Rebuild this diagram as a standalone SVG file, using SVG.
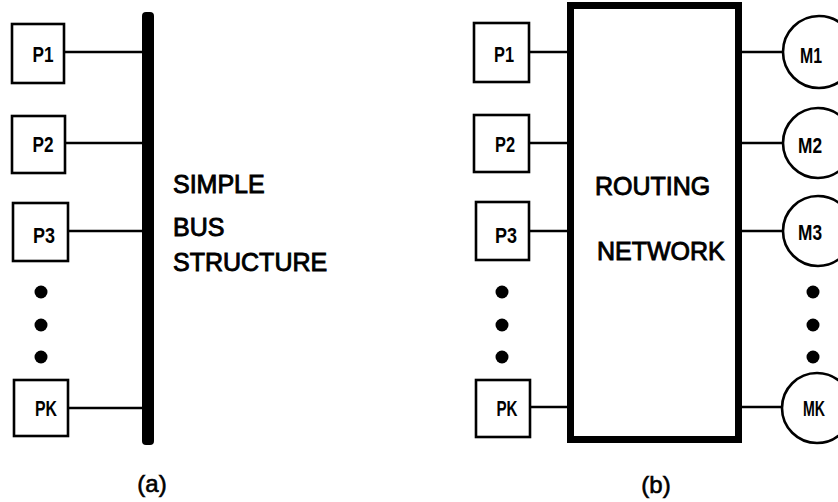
<svg xmlns="http://www.w3.org/2000/svg" width="838" height="502" viewBox="0 0 838 502">
<style>
.box{fill:#fff;stroke:#000;stroke-width:2.6}
.ln{stroke:#000;stroke-width:2.6;fill:none}
.lbl{font-family:"Liberation Sans",Arial,sans-serif;font-weight:bold;font-size:22px;fill:#000;text-anchor:middle}
.big{font-family:"Liberation Sans",Arial,sans-serif;font-size:25px;fill:#000;stroke:#000;stroke-width:0.9}
.cap{font-family:"Liberation Sans",Arial,sans-serif;font-size:24px;fill:#000;stroke:#000;stroke-width:0.6;text-anchor:middle}
.dot{fill:#000}
</style>
<rect width="838" height="502" fill="#fff"/>
<g id="connectors">
<line class="ln" x1="64" y1="52" x2="143" y2="52"/>
<line class="ln" x1="65" y1="143" x2="143" y2="143"/>
<line class="ln" x1="68" y1="231" x2="143" y2="231"/>
<line class="ln" x1="68" y1="408" x2="143" y2="408"/>
<line class="ln" x1="529" y1="52" x2="568" y2="52"/>
<line class="ln" x1="529" y1="143" x2="568" y2="143"/>
<line class="ln" x1="529" y1="231" x2="568" y2="231"/>
<line class="ln" x1="530" y1="407" x2="568" y2="407"/>
<line class="ln" x1="741" y1="52" x2="783" y2="52"/>
<line class="ln" x1="741" y1="143" x2="783" y2="143"/>
<line class="ln" x1="741" y1="231" x2="783" y2="231"/>
<line class="ln" x1="741" y1="407" x2="782" y2="407"/>
</g>
<g id="bus">
<rect x="142" y="12" width="12" height="433" rx="4" fill="#000"/>
</g>
<g id="p1a"><rect class="box" x="12" y="24" width="52" height="59"/><text class="lbl" x="43" y="62" textLength="21" lengthAdjust="spacingAndGlyphs">P1</text></g>
<g id="p2a"><rect class="box" x="12" y="116" width="53" height="57"/><text class="lbl" x="43" y="152" textLength="21" lengthAdjust="spacingAndGlyphs">P2</text></g>
<g id="p3a"><rect class="box" x="13" y="203" width="55" height="58"/><text class="lbl" x="44" y="243" textLength="22" lengthAdjust="spacingAndGlyphs">P3</text></g>
<g id="pka"><rect class="box" x="14" y="380" width="54" height="56"/><text class="lbl" x="46" y="416" textLength="22" lengthAdjust="spacingAndGlyphs">PK</text></g>
<g id="dotsa"><circle class="dot" cx="41" cy="292" r="6.5"/><circle class="dot" cx="41" cy="325" r="6.5"/><circle class="dot" cx="41" cy="357" r="6.5"/></g>
<g id="bustext">
<text class="big" x="173" y="193">SIMPLE</text>
<text class="big" x="173" y="236">BUS</text>
<text class="big" x="173" y="271">STRUCTURE</text>
</g>
<text class="cap" x="152" y="492">(a)</text>
<g id="network">
<rect x="570.5" y="5.5" width="168" height="434" fill="#fff" stroke="#000" stroke-width="7"/>
<text class="big" x="595" y="195">ROUTING</text>
<text class="big" x="597" y="260">NETWORK</text>
</g>
<g id="p1b"><rect class="box" x="474" y="23" width="55" height="59"/><text class="lbl" x="504" y="62" textLength="20" lengthAdjust="spacingAndGlyphs">P1</text></g>
<g id="p2b"><rect class="box" x="474" y="115" width="55" height="57"/><text class="lbl" x="505" y="152" textLength="20" lengthAdjust="spacingAndGlyphs">P2</text></g>
<g id="p3b"><rect class="box" x="476" y="202" width="53" height="58"/><text class="lbl" x="506" y="243" textLength="22" lengthAdjust="spacingAndGlyphs">P3</text></g>
<g id="pkb"><rect class="box" x="476" y="380" width="54" height="57"/><text class="lbl" x="507" y="416" textLength="21" lengthAdjust="spacingAndGlyphs">PK</text></g>
<g id="dotsb"><circle class="dot" cx="502" cy="292" r="6.5"/><circle class="dot" cx="502" cy="325" r="6.5"/><circle class="dot" cx="502" cy="357" r="6.5"/></g>
<g id="m1"><circle class="box" cx="819" cy="52" r="36"/><text class="lbl" x="811" y="63" textLength="22" lengthAdjust="spacingAndGlyphs">M1</text></g>
<g id="m2"><circle class="box" cx="818" cy="143" r="35"/><text class="lbl" x="810" y="153" textLength="24" lengthAdjust="spacingAndGlyphs">M2</text></g>
<g id="m3"><circle class="box" cx="818" cy="231" r="35"/><text class="lbl" x="810" y="240" textLength="24" lengthAdjust="spacingAndGlyphs">M3</text></g>
<g id="dotsm"><circle class="dot" cx="813" cy="292" r="6.5"/><circle class="dot" cx="813" cy="325" r="6.5"/><circle class="dot" cx="813" cy="357" r="6.5"/></g>
<g id="mk"><circle class="box" cx="817" cy="408" r="35"/><text class="lbl" x="814" y="416" textLength="22" lengthAdjust="spacingAndGlyphs">MK</text></g>
<text class="cap" x="656" y="493">(b)</text>
</svg>
